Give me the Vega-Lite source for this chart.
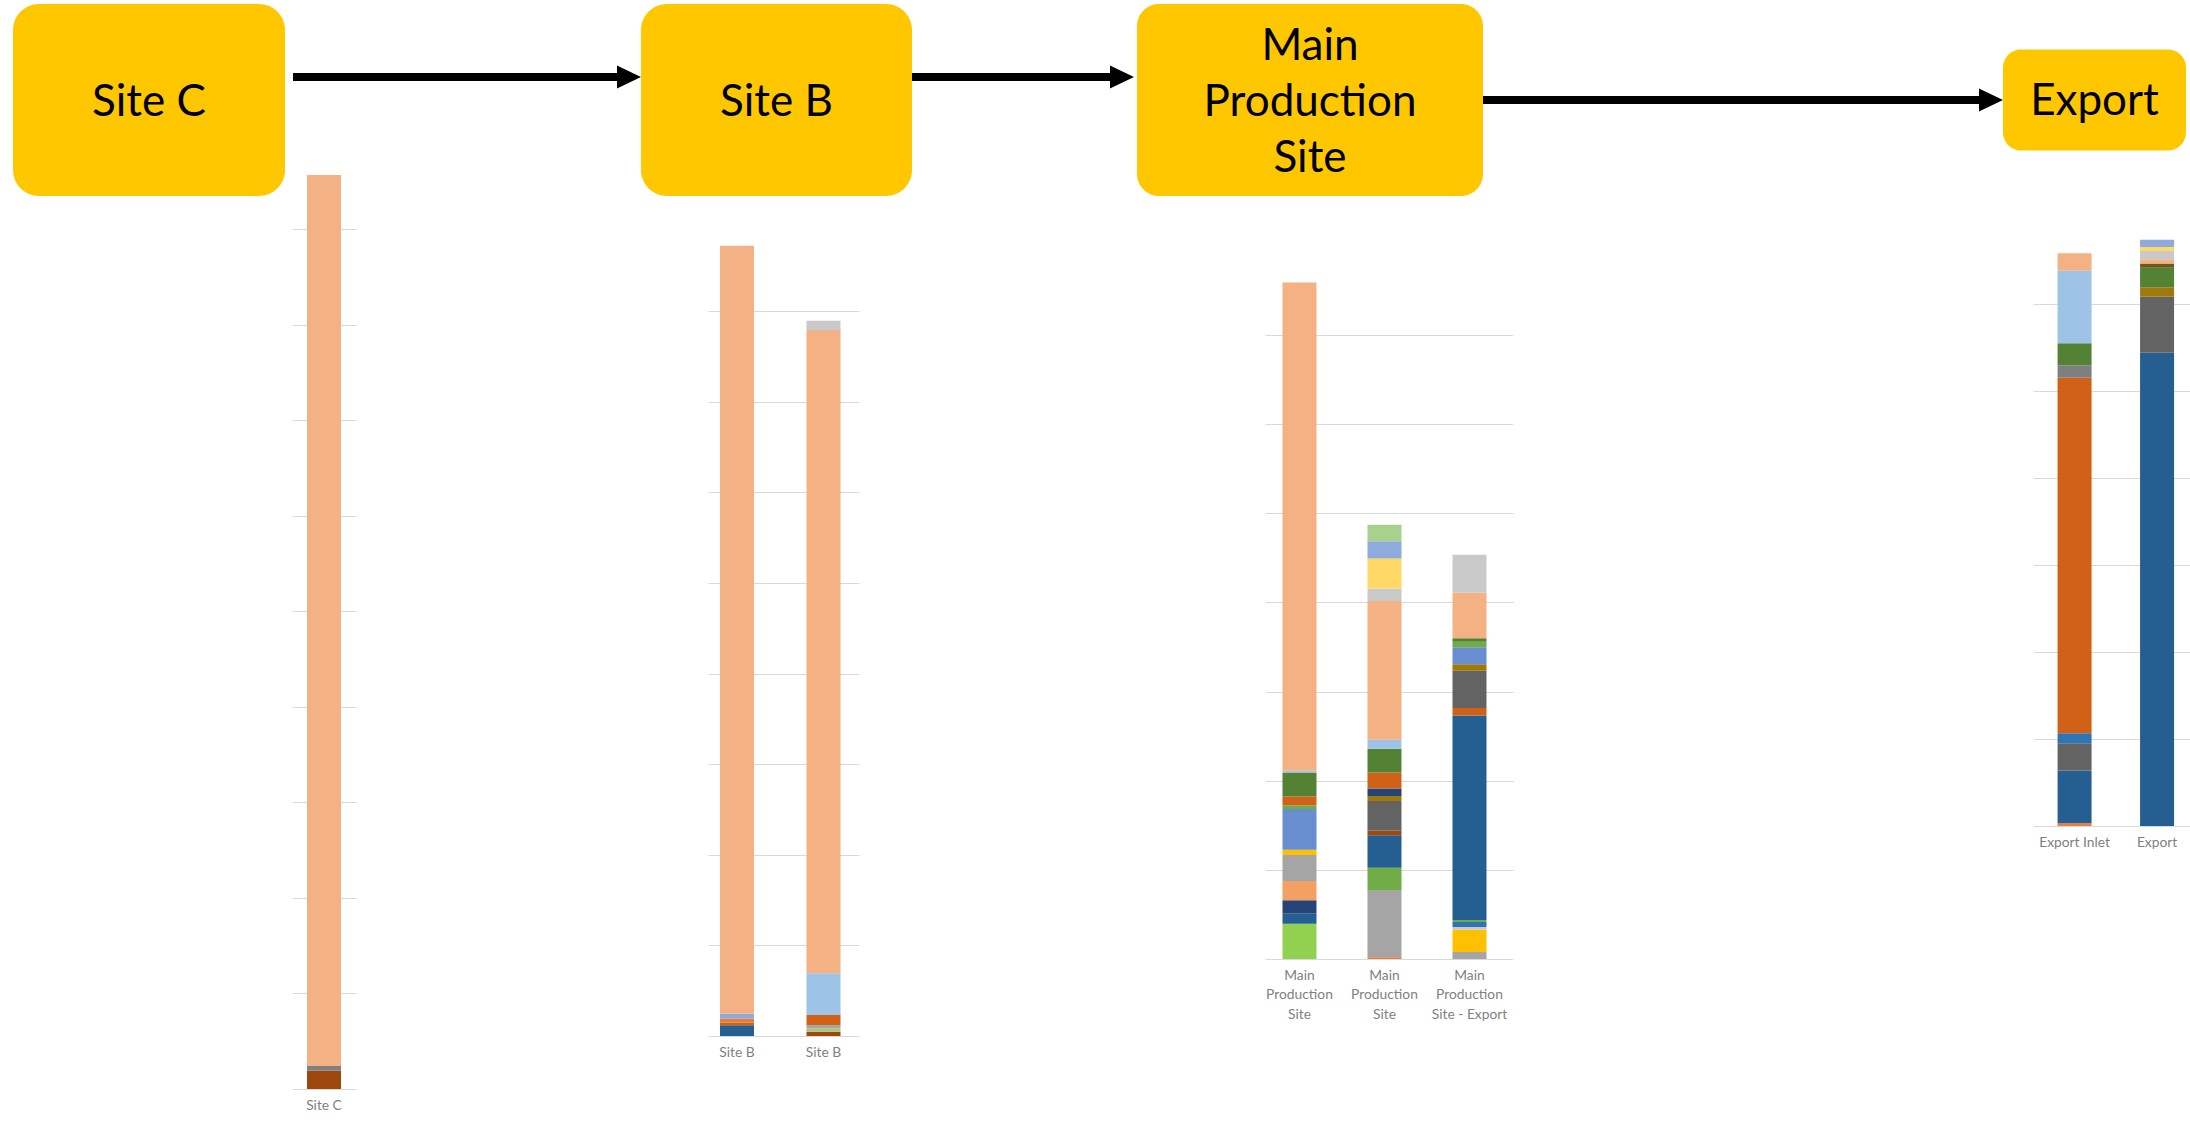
{
  "$schema": "https://vega.github.io/schema/vega-lite/v6.json",
  "background": "white",
  "padding": {"left": 13, "top": 4, "right": 0, "bottom": 0},
  "spacing": -22,
  "config": {
    "view": {"stroke": null},
    "concat": {"spacing": 0},
    "axisX": {
      "domain": false, "ticks": false, "grid": false, "labelAngle": 0,
      "labelFont": "Lato", "labelFontSize": 13.8, "labelColor": "#7F7F7F",
      "labelPadding": 9, "labelLineHeight": 19.5, "labelLimit": 0
    },
    "axisY": {
      "domain": false, "ticks": false, "labels": false, "grid": true,
      "gridColor": "#D9D9D9", "gridWidth": 1
    }
  },
  "datasets": {
    "composition": [
      {"site": "Site C", "bar": "Site C", "seq": 1, "component": "Component 02", "value": 1.9},
      {"site": "Site C", "bar": "Site C", "seq": 2, "component": "Component 03", "value": 0.5},
      {"site": "Site C", "bar": "Site C", "seq": 3, "component": "Component 01", "value": 93.3},

      {"site": "Site B", "bar": "Site B", "seq": 1, "component": "Component 04", "value": 1.2},
      {"site": "Site B", "bar": "Site B", "seq": 2, "component": "Component 05", "value": 0.3},
      {"site": "Site B", "bar": "Site B", "seq": 3, "component": "Component 06", "value": 0.4},
      {"site": "Site B", "bar": "Site B", "seq": 4, "component": "Component 07", "value": 0.55},
      {"site": "Site B", "bar": "Site B", "seq": 5, "component": "Component 01", "value": 84.75},
      {"site": "Site B", "bar": "Site B ", "seq": 1, "component": "Component 02", "value": 0.48},
      {"site": "Site B", "bar": "Site B ", "seq": 2, "component": "Component 23", "value": 0.37},
      {"site": "Site B", "bar": "Site B ", "seq": 3, "component": "Component 10", "value": 0.37},
      {"site": "Site B", "bar": "Site B ", "seq": 4, "component": "Component 05", "value": 1.1},
      {"site": "Site B", "bar": "Site B ", "seq": 5, "component": "Component 08", "value": 4.6},
      {"site": "Site B", "bar": "Site B ", "seq": 6, "component": "Component 01", "value": 71.0},
      {"site": "Site B", "bar": "Site B ", "seq": 7, "component": "Component 09", "value": 1.0},

      {"site": "Main Production Site", "bar": "Main\nProduction\nSite", "seq": 1, "component": "Component 11", "value": 3.96},
      {"site": "Main Production Site", "bar": "Main\nProduction\nSite", "seq": 2, "component": "Component 04", "value": 1.17},
      {"site": "Main Production Site", "bar": "Main\nProduction\nSite", "seq": 3, "component": "Component 12", "value": 1.45},
      {"site": "Main Production Site", "bar": "Main\nProduction\nSite", "seq": 4, "component": "Component 13", "value": 2.18},
      {"site": "Main Production Site", "bar": "Main\nProduction\nSite", "seq": 5, "component": "Component 10", "value": 2.9},
      {"site": "Main Production Site", "bar": "Main\nProduction\nSite", "seq": 6, "component": "Component 14", "value": 0.6},
      {"site": "Main Production Site", "bar": "Main\nProduction\nSite", "seq": 7, "component": "Component 15", "value": 4.58},
      {"site": "Main Production Site", "bar": "Main\nProduction\nSite", "seq": 8, "component": "Component 16", "value": 0.4},
      {"site": "Main Production Site", "bar": "Main\nProduction\nSite", "seq": 9, "component": "Component 05", "value": 1.0},
      {"site": "Main Production Site", "bar": "Main\nProduction\nSite", "seq": 10, "component": "Component 17", "value": 2.68},
      {"site": "Main Production Site", "bar": "Main\nProduction\nSite", "seq": 11, "component": "Component 08", "value": 0.2},
      {"site": "Main Production Site", "bar": "Main\nProduction\nSite", "seq": 12, "component": "Component 01", "value": 54.78},

      {"site": "Main Production Site", "bar": "Main\nProduction\nSite ", "seq": 1, "component": "Component 06", "value": 0.2},
      {"site": "Main Production Site", "bar": "Main\nProduction\nSite ", "seq": 2, "component": "Component 10", "value": 7.54},
      {"site": "Main Production Site", "bar": "Main\nProduction\nSite ", "seq": 3, "component": "Component 16", "value": 2.51},
      {"site": "Main Production Site", "bar": "Main\nProduction\nSite ", "seq": 4, "component": "Component 04", "value": 3.63},
      {"site": "Main Production Site", "bar": "Main\nProduction\nSite ", "seq": 5, "component": "Component 02", "value": 0.5},
      {"site": "Main Production Site", "bar": "Main\nProduction\nSite ", "seq": 6, "component": "Component 18", "value": 3.35},
      {"site": "Main Production Site", "bar": "Main\nProduction\nSite ", "seq": 7, "component": "Component 19", "value": 0.55},
      {"site": "Main Production Site", "bar": "Main\nProduction\nSite ", "seq": 8, "component": "Component 12", "value": 0.84},
      {"site": "Main Production Site", "bar": "Main\nProduction\nSite ", "seq": 9, "component": "Component 05", "value": 1.79},
      {"site": "Main Production Site", "bar": "Main\nProduction\nSite ", "seq": 10, "component": "Component 17", "value": 2.68},
      {"site": "Main Production Site", "bar": "Main\nProduction\nSite ", "seq": 11, "component": "Component 08", "value": 1.0},
      {"site": "Main Production Site", "bar": "Main\nProduction\nSite ", "seq": 12, "component": "Component 01", "value": 15.58},
      {"site": "Main Production Site", "bar": "Main\nProduction\nSite ", "seq": 13, "component": "Component 09", "value": 1.4},
      {"site": "Main Production Site", "bar": "Main\nProduction\nSite ", "seq": 14, "component": "Component 21", "value": 3.35},
      {"site": "Main Production Site", "bar": "Main\nProduction\nSite ", "seq": 15, "component": "Component 07", "value": 1.95},
      {"site": "Main Production Site", "bar": "Main\nProduction\nSite ", "seq": 16, "component": "Component 22", "value": 1.84},

      {"site": "Main Production Site", "bar": "Main\nProduction\nSite - Export", "seq": 1, "component": "Component 10", "value": 0.78},
      {"site": "Main Production Site", "bar": "Main\nProduction\nSite - Export", "seq": 2, "component": "Component 14", "value": 2.51},
      {"site": "Main Production Site", "bar": "Main\nProduction\nSite - Export", "seq": 3, "component": "Component 09", "value": 0.3},
      {"site": "Main Production Site", "bar": "Main\nProduction\nSite - Export", "seq": 4, "component": "Component 20", "value": 0.56},
      {"site": "Main Production Site", "bar": "Main\nProduction\nSite - Export", "seq": 5, "component": "Component 16", "value": 0.22},
      {"site": "Main Production Site", "bar": "Main\nProduction\nSite - Export", "seq": 6, "component": "Component 04", "value": 22.95},
      {"site": "Main Production Site", "bar": "Main\nProduction\nSite - Export", "seq": 7, "component": "Component 05", "value": 0.84},
      {"site": "Main Production Site", "bar": "Main\nProduction\nSite - Export", "seq": 8, "component": "Component 18", "value": 4.19},
      {"site": "Main Production Site", "bar": "Main\nProduction\nSite - Export", "seq": 9, "component": "Component 19", "value": 0.73},
      {"site": "Main Production Site", "bar": "Main\nProduction\nSite - Export", "seq": 10, "component": "Component 15", "value": 1.9},
      {"site": "Main Production Site", "bar": "Main\nProduction\nSite - Export", "seq": 11, "component": "Component 16", "value": 0.61},
      {"site": "Main Production Site", "bar": "Main\nProduction\nSite - Export", "seq": 12, "component": "Component 17", "value": 0.39},
      {"site": "Main Production Site", "bar": "Main\nProduction\nSite - Export", "seq": 13, "component": "Component 01", "value": 5.14},
      {"site": "Main Production Site", "bar": "Main\nProduction\nSite - Export", "seq": 14, "component": "Component 09", "value": 4.24},

      {"site": "Export", "bar": "Export Inlet", "seq": 1, "component": "Component 06", "value": 0.33},
      {"site": "Export", "bar": "Export Inlet", "seq": 2, "component": "Component 04", "value": 6.05},
      {"site": "Export", "bar": "Export Inlet", "seq": 3, "component": "Component 18", "value": 3.14},
      {"site": "Export", "bar": "Export Inlet", "seq": 4, "component": "Component 20", "value": 1.14},
      {"site": "Export", "bar": "Export Inlet", "seq": 5, "component": "Component 05", "value": 40.86},
      {"site": "Export", "bar": "Export Inlet", "seq": 6, "component": "Component 03", "value": 1.43},
      {"site": "Export", "bar": "Export Inlet", "seq": 7, "component": "Component 17", "value": 2.53},
      {"site": "Export", "bar": "Export Inlet", "seq": 8, "component": "Component 08", "value": 8.34},
      {"site": "Export", "bar": "Export Inlet", "seq": 9, "component": "Component 01", "value": 2.0},
      {"site": "Export", "bar": "Export", "seq": 1, "component": "Component 04", "value": 54.39},
      {"site": "Export", "bar": "Export", "seq": 2, "component": "Component 18", "value": 6.43},
      {"site": "Export", "bar": "Export", "seq": 3, "component": "Component 19", "value": 1.1},
      {"site": "Export", "bar": "Export", "seq": 4, "component": "Component 17", "value": 2.24},
      {"site": "Export", "bar": "Export", "seq": 5, "component": "Component 24", "value": 0.48},
      {"site": "Export", "bar": "Export", "seq": 6, "component": "Component 01", "value": 0.48},
      {"site": "Export", "bar": "Export", "seq": 7, "component": "Component 09", "value": 0.95},
      {"site": "Export", "bar": "Export", "seq": 8, "component": "Component 21", "value": 0.48},
      {"site": "Export", "bar": "Export", "seq": 9, "component": "Component 07", "value": 0.81}
    ]
  },
  "vconcat": [
    {
      "bounds": "flush",
      "spacing": 0,
      "hconcat": [
        {
          "width": 272, "height": 192,
          "data": {"values": [{"stage": "Site C"}]},
          "layer": [
            {"mark": {"type": "rect", "color": "#FFC700", "cornerRadius": 26}, "encoding": {}},
            {"mark": {"type": "text", "font": "Lato", "fontSize": 44, "color": "#000000", "dy": 3}, "encoding": {"text": {"field": "stage"}}}
          ]
        },
        {
          "width": 356, "height": 146,
          "data": {"values": [{"link": "Site C to Site B"}]},
          "mark": {"type": "point", "filled": true, "color": "#000000", "opacity": 1, "size": 126736,
            "shape": "M-0.9551,-0.0225L0.8652,-0.0225L0.8652,-0.0646L1,0L0.8652,0.0646L0.8652,0.0225L-0.9551,0.0225Z"},
          "encoding": {}
        },
        {
          "width": 271, "height": 192,
          "data": {"values": [{"stage": "Site B"}]},
          "layer": [
            {"mark": {"type": "rect", "color": "#FFC700", "cornerRadius": 26}, "encoding": {}},
            {"mark": {"type": "text", "font": "Lato", "fontSize": 44, "color": "#000000", "dy": 3}, "encoding": {"text": {"field": "stage"}}}
          ]
        },
        {
          "width": 225, "height": 146,
          "data": {"values": [{"link": "Site B to Main Production Site"}]},
          "mark": {"type": "point", "filled": true, "color": "#000000", "opacity": 1, "size": 50625,
            "shape": "M-1,-0.0356L0.76,-0.0356L0.76,-0.1022L0.9733,0L0.76,0.1022L0.76,0.0356L-1,0.0356Z"},
          "encoding": {}
        },
        {
          "width": 346, "height": 192,
          "data": {"values": [{"stage": "Main\nProduction\nSite"}]},
          "layer": [
            {"mark": {"type": "rect", "color": "#FFC700", "cornerRadius": 22}, "encoding": {}},
            {"mark": {"type": "text", "font": "Lato", "fontSize": 44, "color": "#000000", "lineBreak": "\n", "lineHeight": 56, "dy": -53}, "encoding": {"text": {"field": "stage"}}}
          ]
        },
        {
          "width": 520, "height": 192,
          "data": {"values": [{"link": "Main Production Site to Export"}]},
          "mark": {"type": "point", "filled": true, "color": "#000000", "opacity": 1, "size": 270400,
            "shape": "M-1,-0.0154L0.9077,-0.0154L0.9077,-0.0442L1,0L0.9077,0.0442L0.9077,0.0154L-1,0.0154Z"},
          "encoding": {}
        },
        {
          "width": 183, "height": 192,
          "data": {"values": [{"stage": "Export"}]},
          "layer": [
            {
              "mark": {"type": "rect", "color": "#FFC700", "cornerRadius": 18},
              "encoding": {"y": {"field": "stage", "type": "nominal", "axis": null, "scale": {"paddingInner": 0, "paddingOuter": 0.45}}}
            },
            {"mark": {"type": "text", "font": "Lato", "fontSize": 44, "color": "#000000", "dy": 2}, "encoding": {"text": {"field": "stage"}}}
          ]
        }
      ]
    },
    {
      "bounds": "flush",
      "spacing": 0,
      "hconcat": [
        {"width": 279, "height": 1, "data": {"values": [{"gap": "left margin"}]}, "mark": {"type": "rect", "color": "#FFFFFF"}, "encoding": {}},
        {
          "width": 64, "height": 893,
          "data": {"name": "composition"},
          "transform": [{"filter": "datum.site == 'Site C'"}],
          "mark": {"type": "bar", "width": 34},
          "encoding": {
            "x": {"field": "bar", "type": "nominal", "title": null, "sort": ["Site C"], "scale": {"paddingInner": 0, "paddingOuter": 0}, "axis": {"labelExpr": "split(datum.label, '\\n')"}},
            "y": {"field": "value", "type": "quantitative", "stack": "zero", "title": null, "scale": {"domain": [0, 93.5], "nice": false, "zero": true}, "axis": {"values": [0, 10, 20, 30, 40, 50, 60, 70, 80, 90]}},
            "color": {"field": "component", "type": "nominal", "legend": null, "scale": {
              "domain": ["Component 01", "Component 02", "Component 03", "Component 04", "Component 05", "Component 06", "Component 07", "Component 08", "Component 09", "Component 10", "Component 11", "Component 12", "Component 13", "Component 14", "Component 15", "Component 16", "Component 17", "Component 18", "Component 19", "Component 20", "Component 21", "Component 22", "Component 23", "Component 24"],
              "range": ["#F4B183", "#9E480E", "#7F7F7F", "#255E91", "#D06116", "#ED7D31", "#8FAADC", "#9DC3E6", "#C9C9C9", "#A5A5A5", "#92D050", "#264478", "#F3A062", "#FFC000", "#698ED0", "#70AD47", "#548235", "#636363", "#9E7A0B", "#2E75B6", "#FFD966", "#A9D18E", "#A9C47F", "#6B5A1A"]}},
            "order": {"field": "seq", "type": "quantitative"}
          }
        },
        {"width": 352, "height": 1, "data": {"values": []}, "mark": "point"},
        {
          "width": 151, "height": 840,
          "data": {"name": "composition"},
          "transform": [{"filter": "datum.site == 'Site B'"}],
          "mark": {"type": "bar", "width": 34},
          "encoding": {
            "x": {"field": "bar", "type": "nominal", "title": null, "sort": ["Site B", "Site B "], "scale": {"paddingInner": 0.5, "paddingOuter": 0.1228, "align": 0.347}, "axis": {"labelExpr": "split(datum.label, '\\n')"}},
            "y": {"field": "value", "type": "quantitative", "stack": "zero", "title": null, "scale": {"domain": [0, 92.7], "nice": false, "zero": true}, "axis": {"values": [0, 10, 20, 30, 40, 50, 60, 70, 80]}},
            "color": {"field": "component", "type": "nominal", "legend": null, "scale": {
              "domain": ["Component 01", "Component 02", "Component 03", "Component 04", "Component 05", "Component 06", "Component 07", "Component 08", "Component 09", "Component 10", "Component 11", "Component 12", "Component 13", "Component 14", "Component 15", "Component 16", "Component 17", "Component 18", "Component 19", "Component 20", "Component 21", "Component 22", "Component 23", "Component 24"],
              "range": ["#F4B183", "#9E480E", "#7F7F7F", "#255E91", "#D06116", "#ED7D31", "#8FAADC", "#9DC3E6", "#C9C9C9", "#A5A5A5", "#92D050", "#264478", "#F3A062", "#FFC000", "#698ED0", "#70AD47", "#548235", "#636363", "#9E7A0B", "#2E75B6", "#FFD966", "#A9D18E", "#A9C47F", "#6B5A1A"]}},
            "order": {"field": "seq", "type": "quantitative"}
          }
        },
        {"width": 406, "height": 1, "data": {"values": []}, "mark": "point"},
        {
          "width": 248, "height": 763,
          "data": {"name": "composition"},
          "transform": [{"filter": "datum.site == 'Main Production Site'"}],
          "mark": {"type": "bar", "width": 34},
          "encoding": {
            "x": {"field": "bar", "type": "nominal", "title": null, "sort": ["Main\nProduction\nSite", "Main\nProduction\nSite ", "Main\nProduction\nSite - Export"], "scale": {"paddingInner": 0.5, "paddingOuter": 0.2088, "align": 0.373}, "axis": {"labelExpr": "split(datum.label, '\\n')"}},
            "y": {"field": "value", "type": "quantitative", "stack": "zero", "title": null, "scale": {"domain": [0, 85.6], "nice": false, "zero": true}, "axis": {"values": [0, 10, 20, 30, 40, 50, 60, 70]}},
            "color": {"field": "component", "type": "nominal", "legend": null, "scale": {
              "domain": ["Component 01", "Component 02", "Component 03", "Component 04", "Component 05", "Component 06", "Component 07", "Component 08", "Component 09", "Component 10", "Component 11", "Component 12", "Component 13", "Component 14", "Component 15", "Component 16", "Component 17", "Component 18", "Component 19", "Component 20", "Component 21", "Component 22", "Component 23", "Component 24"],
              "range": ["#F4B183", "#9E480E", "#7F7F7F", "#255E91", "#D06116", "#ED7D31", "#8FAADC", "#9DC3E6", "#C9C9C9", "#A5A5A5", "#92D050", "#264478", "#F3A062", "#FFC000", "#698ED0", "#70AD47", "#548235", "#636363", "#9E7A0B", "#2E75B6", "#FFD966", "#A9D18E", "#A9C47F", "#6B5A1A"]}},
            "order": {"field": "seq", "type": "quantitative"}
          }
        },
        {"width": 520, "height": 1, "data": {"values": []}, "mark": "point"},
        {
          "width": 157, "height": 630,
          "data": {"name": "composition"},
          "transform": [{"filter": "datum.site == 'Export'"}],
          "mark": {"type": "bar", "width": 34},
          "encoding": {
            "x": {"field": "bar", "type": "nominal", "title": null, "sort": ["Export Inlet", "Export"], "scale": {"paddingInner": 0.5, "paddingOuter": 0.2015, "align": 0.63}, "axis": {"labelExpr": "split(datum.label, '\\n')"}},
            "y": {"field": "value", "type": "quantitative", "stack": "zero", "title": null, "scale": {"domain": [0, 72.4], "nice": false, "zero": true}, "axis": {"values": [0, 10, 20, 30, 40, 50, 60]}},
            "color": {"field": "component", "type": "nominal", "legend": null, "scale": {
              "domain": ["Component 01", "Component 02", "Component 03", "Component 04", "Component 05", "Component 06", "Component 07", "Component 08", "Component 09", "Component 10", "Component 11", "Component 12", "Component 13", "Component 14", "Component 15", "Component 16", "Component 17", "Component 18", "Component 19", "Component 20", "Component 21", "Component 22", "Component 23", "Component 24"],
              "range": ["#F4B183", "#9E480E", "#7F7F7F", "#255E91", "#D06116", "#ED7D31", "#8FAADC", "#9DC3E6", "#C9C9C9", "#A5A5A5", "#92D050", "#264478", "#F3A062", "#FFC000", "#698ED0", "#70AD47", "#548235", "#636363", "#9E7A0B", "#2E75B6", "#FFD966", "#A9D18E", "#A9C47F", "#6B5A1A"]}},
            "order": {"field": "seq", "type": "quantitative"}
          }
        }
      ]
    }
  ]
}
